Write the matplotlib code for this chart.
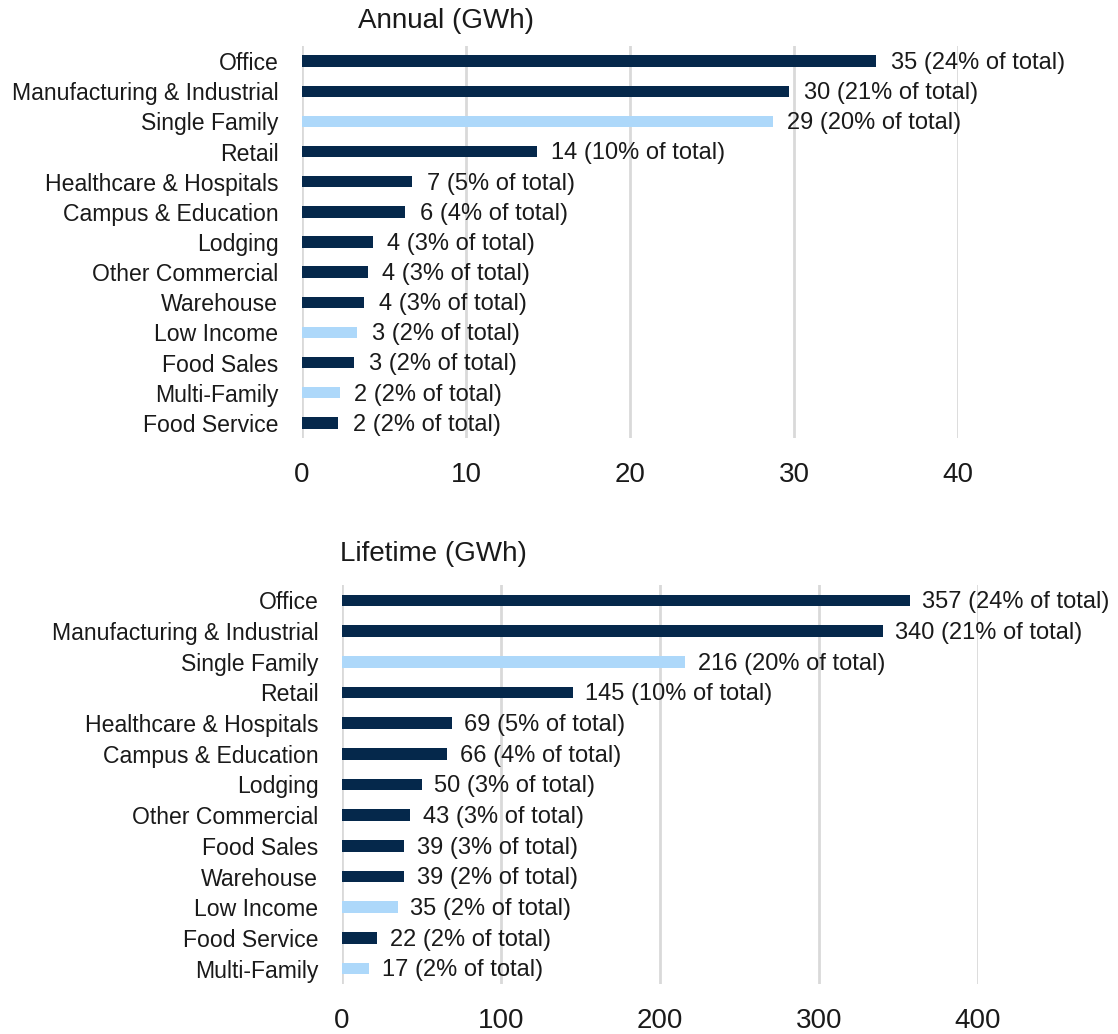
import matplotlib
matplotlib.use("Agg")
import matplotlib.pyplot as plt
from matplotlib import font_manager

fams = {f.name for f in font_manager.fontManager.ttflist}
FONT = ["Liberation Sans Narrow", "DejaVu Sans"] if "Liberation Sans Narrow" in fams else ["Liberation Sans", "DejaVu Sans"]
plt.rcParams["font.family"] = FONT

DARK = "#05284B"
LIGHT = "#ADD8FA"

annual_cats = ["Office", "Manufacturing & Industrial", "Single Family", "Retail",
               "Healthcare & Hospitals", "Campus & Education", "Lodging",
               "Other Commercial", "Warehouse", "Low Income", "Food Sales",
               "Multi-Family", "Food Service"]
annual_vals = [35.0, 29.7, 28.7, 14.3, 6.7, 6.3, 4.3, 4.0, 3.8, 3.35, 3.2, 2.3, 2.2]
annual_labels = ["35 (24% of total)", "30 (21% of total)", "29 (20% of total)",
                 "14 (10% of total)", "7 (5% of total)", "6 (4% of total)",
                 "4 (3% of total)", "4 (3% of total)", "4 (3% of total)",
                 "3 (2% of total)", "3 (2% of total)", "2 (2% of total)",
                 "2 (2% of total)"]
annual_res = [False, False, True, False, False, False, False, False, False,
              True, False, True, False]
annual_ticks = [0, 10, 20, 30, 40]

life_cats = ["Office", "Manufacturing & Industrial", "Single Family", "Retail",
             "Healthcare & Hospitals", "Campus & Education", "Lodging",
             "Other Commercial", "Food Sales", "Warehouse", "Low Income",
             "Food Service", "Multi-Family"]
life_vals = [357, 340, 216, 145, 69, 66, 50, 43, 39, 39, 35, 22, 17]
life_labels = ["357 (24% of total)", "340 (21% of total)", "216 (20% of total)",
               "145 (10% of total)", "69 (5% of total)", "66 (4% of total)",
               "50 (3% of total)", "43 (3% of total)", "39 (3% of total)",
               "39 (2% of total)", "35 (2% of total)", "22 (2% of total)",
               "17 (2% of total)"]
life_res = [False, False, True, False, False, False, False, False, False,
            False, True, False, True]
life_ticks = [0, 100, 200, 300, 400]

W, H = 1118, 1034
fig = plt.figure(figsize=(W / 100, H / 100), dpi=100)


def panel(rect, cats, vals, labels, res, ticks, title, title_x, title_y, pad):
    l, t, r, b = rect
    ax = fig.add_axes([l / W, 1 - b / H, (r - l) / W, (b - t) / H])
    y = list(range(len(cats)))
    colors = [LIGHT if x else DARK for x in res]
    ax.barh(y, vals, height=0.38, color=colors, zorder=3)
    for yi, v, lab in zip(y, vals, labels):
        ax.text(v + pad, yi + 0.06, lab, va="center", ha="left", fontsize=17,
                color="#1a1a1a", zorder=4)
    ax.set_ylim(len(cats) - 0.5, -0.5)
    ax.set_xlim(ticks[0], ticks[-1])
    ax.set_yticks(y)
    ax.set_yticklabels(cats, fontsize=16.6, color="#1a1a1a")
    ax.set_xticks(ticks)
    ax.set_xticklabels([str(tk) for tk in ticks], fontsize=20, color="#1a1a1a")
    ax.tick_params(axis="both", length=0)
    ax.tick_params(axis="y", pad=17)
    ax.tick_params(axis="x", pad=17)
    for s in ax.spines.values():
        s.set_visible(False)
    ax.xaxis.grid(True, color="#D9D9D9", linewidth=2, zorder=0)
    ax.set_axisbelow(True)
    ax.patch.set_alpha(0)
    fig.text(title_x / W, 1 - title_y / H, title, fontsize=20, color="#1a1a1a",
             ha="left", va="center")
    return ax


panel((302, 46, 958, 438), annual_cats, annual_vals, annual_labels, annual_res,
      annual_ticks, "Annual (GWh)", 358, 21, 0.9)
panel((342, 585, 978, 984), life_cats, life_vals, life_labels, life_res,
      life_ticks, "Lifetime (GWh)", 340, 554, 8)

fig.savefig("out.png", dpi=100, facecolor="white")
